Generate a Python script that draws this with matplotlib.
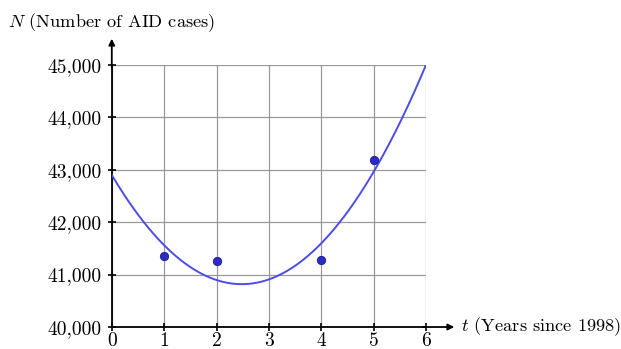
import numpy as np
import matplotlib
matplotlib.use('Agg')
import matplotlib.pyplot as plt
from matplotlib.ticker import FuncFormatter

# data
years = [1, 2, 4, 5]
cases = [41355, 41265, 41285, 43190]
# quadratic model N = a t^2 + b t + c
fit_coeffs = [338, -1678, 42900]
x_ticks = [0, 1, 2, 3, 4, 5, 6]
y_ticks = [40000, 41000, 42000, 43000, 44000, 45000]

plt.rcParams['font.family'] = 'serif'
plt.rcParams['font.serif'] = ['cmr10', 'DejaVu Serif']
plt.rcParams['mathtext.fontset'] = 'cm'
plt.rcParams['axes.unicode_minus'] = False

fig = plt.figure(figsize=(6.21, 3.49), dpi=100)
ax = fig.add_axes([0.180, 0.063, 0.506, 0.751])

t = np.linspace(0, 6, 300)
ax.plot(t, np.polyval(fit_coeffs, t), color='#4c4ce6', lw=1.4, zorder=3)
ax.plot(years, cases, 'o', color='#2b2bc8', markersize=6, markeredgecolor='#1a1a90',
        markeredgewidth=0.6, zorder=4)

ax.set_xlim(0, 6)
ax.set_ylim(40000, 45000)
ax.set_xticks(x_ticks)
ax.set_yticks(y_ticks)
ax.yaxis.set_major_formatter(FuncFormatter(lambda v, p: f'{int(v):,}'))
ax.grid(color='#999999', lw=0.9)
ax.set_axisbelow(True)
for s in ['top', 'right']:
    ax.spines[s].set_visible(False)
for s in ['left', 'bottom']:
    ax.spines[s].set_linewidth(1.3)
ax.tick_params(direction='inout', length=6, width=1.2, labelsize=14)
ax.tick_params(axis='x', pad=1)
ax.tick_params(axis='y', pad=4)

ax.annotate('', xy=(0, 1.10), xytext=(0, 0.99), xycoords='axes fraction',
            arrowprops=dict(arrowstyle='-|>', color='black', lw=1.3,
                            mutation_scale=9, shrinkA=0, shrinkB=0))
ax.annotate('', xy=(1.09, 0), xytext=(0.99, 0), xycoords='axes fraction',
            arrowprops=dict(arrowstyle='-|>', color='black', lw=1.3,
                            mutation_scale=9, shrinkA=0, shrinkB=0))

fig.text(0.013, 0.935, r'$N$ (Number of AID cases)', fontsize=13.2, va='center')
fig.text(0.742, 0.063, r'$t$ (Years since 1998)', fontsize=13.2, va='center')

fig.savefig('out.png', dpi=100)
